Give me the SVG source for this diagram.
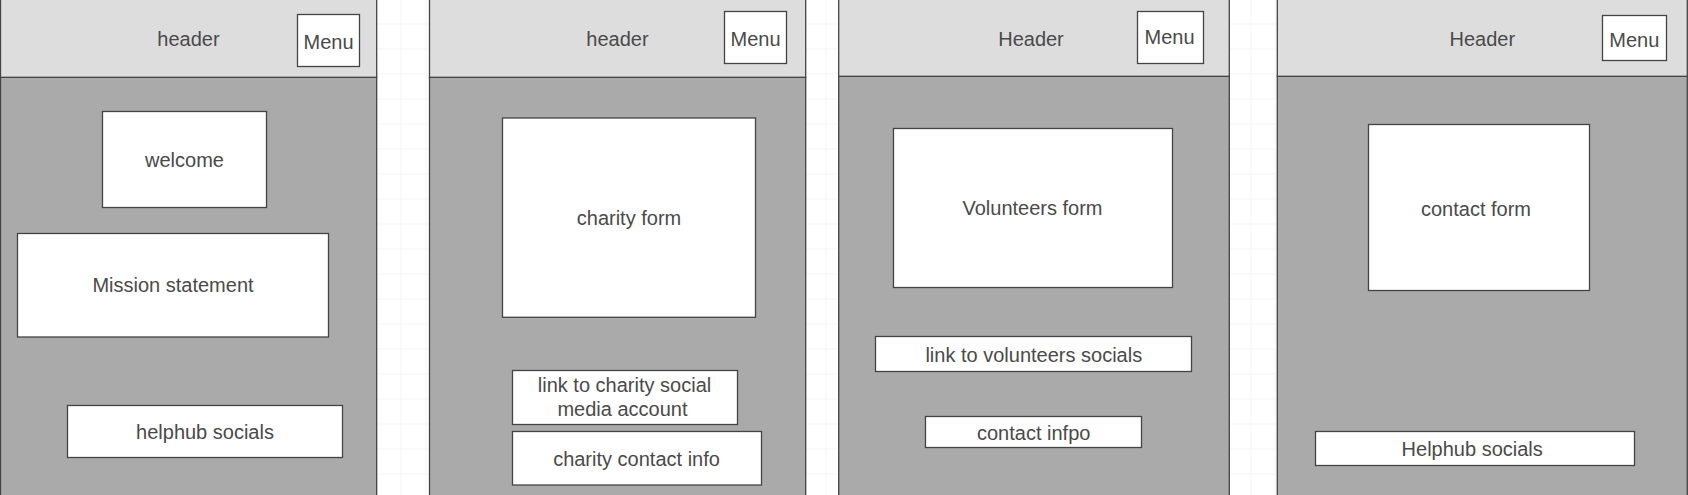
<svg xmlns="http://www.w3.org/2000/svg" width="1688" height="495" viewBox="0 0 1688 495">
<defs>
<pattern id="grid" x="0.5" y="-1.5" width="25" height="25" patternUnits="userSpaceOnUse">
<path d="M0 0V25M0 0H25" fill="none" stroke="#ebebeb" stroke-width="1"/>
</pattern>
</defs>
<style>
.hdr{fill:#dddddd;stroke:#444444;stroke-width:1.3}
.body{fill:#aaaaaa;stroke:#444444;stroke-width:1.3}
.box{fill:#ffffff;stroke:#444444;stroke-width:1.3}
text{font-family:"Liberation Sans",Arial,sans-serif;font-size:20px;fill:#4a4a4a;text-anchor:middle}
</style>
<rect x="0" y="0" width="1688" height="495" fill="#ffffff"/>
<rect x="0" y="0" width="1688" height="495" fill="url(#grid)"/>

<g id="page1">
<rect class="body" x="0.5" y="77.3" width="376.2" height="430"/>
<rect class="hdr" x="0.5" y="-5" width="376.2" height="82.3"/>
<text x="188.5" y="46">header</text>
</g>
<g id="menu1"><rect class="box" x="297.5" y="14.5" width="62" height="52"/><text x="328.5" y="48.5">Menu</text></g>
<g id="welcome"><rect class="box" x="102.5" y="111.5" width="164" height="96"/><text x="184.5" y="166.5">welcome</text></g>
<g id="mission"><rect class="box" x="17.5" y="233.5" width="311" height="103.5"/><text x="173" y="292">Mission statement</text></g>
<g id="helphub1"><rect class="box" x="67.5" y="405.5" width="275" height="52"/><text x="205" y="438.5">helphub socials</text></g>

<g id="page2">
<rect class="body" x="429.5" y="77.3" width="376.2" height="430"/>
<rect class="hdr" x="429.5" y="-5" width="376.2" height="82.3"/>
<text x="617.5" y="46">header</text>
</g>
<g id="menu2"><rect class="box" x="724.5" y="11.5" width="62" height="52"/><text x="755.5" y="46">Menu</text></g>
<g id="charityform"><rect class="box" x="502.5" y="118" width="253" height="199.3"/><text x="629" y="225">charity form</text></g>
<g id="charitysocial"><rect class="box" x="512.5" y="370.5" width="225" height="54"/><text x="624.5" y="392"><tspan x="624.5">link to charity social</tspan><tspan x="622.5" y="415.5">media account</tspan></text></g>
<g id="charitycontact"><rect class="box" x="512.5" y="431.5" width="249" height="53.5"/><text x="636.5" y="465.5">charity contact info</text></g>

<g id="page3">
<rect class="body" x="838.7" y="76.3" width="390.6" height="430"/>
<rect class="hdr" x="838.7" y="-5" width="390.6" height="81.3"/>
<text x="1031" y="46">Header</text>
</g>
<g id="menu3"><rect class="box" x="1137.5" y="11.5" width="66" height="52"/><text x="1169.5" y="43.8">Menu</text></g>
<g id="volform"><rect class="box" x="893.5" y="128.5" width="279" height="159"/><text x="1032.5" y="215">Volunteers form</text></g>
<g id="volsocials"><rect class="box" x="875.5" y="336.5" width="316" height="35"/><text x="1033.8" y="362">link to volunteers socials</text></g>
<g id="volcontact"><rect class="box" x="925.5" y="416.5" width="216" height="31"/><text x="1033.7" y="439.7">contact infpo</text></g>

<g id="page4">
<rect class="body" x="1277.3" y="76.3" width="410" height="430"/>
<rect class="hdr" x="1277.3" y="-5" width="410" height="81.3"/>
<text x="1482.3" y="46">Header</text>
</g>
<g id="menu4"><rect class="box" x="1602.5" y="15.5" width="64" height="45"/><text x="1634.3" y="46.5">Menu</text></g>
<g id="contactform"><rect class="box" x="1368.5" y="124.5" width="221" height="166"/><text x="1476" y="216">contact form</text></g>
<g id="helphub4"><rect class="box" x="1315.5" y="431.5" width="319" height="34"/><text x="1472.2" y="456">Helphub socials</text></g>

<g id="connectors"/>
</svg>
